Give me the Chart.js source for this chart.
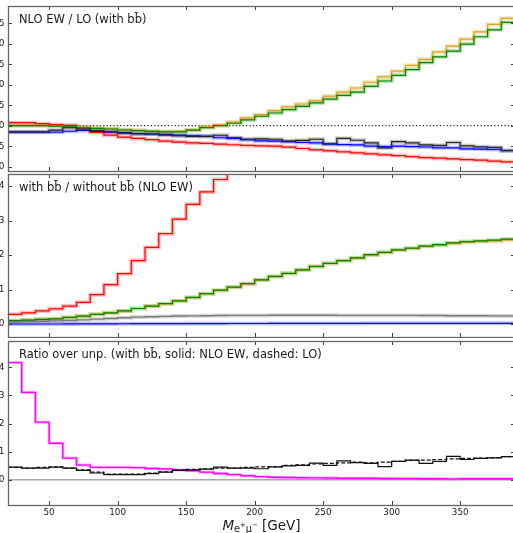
<!DOCTYPE html>
<html>
<head>
<meta charset="utf-8">
<script src="https://cdn.jsdelivr.net/npm/chart.js@4"></script>
<style>
  html, body { margin: 0; padding: 0; background: #fff; overflow: hidden; width: 513px; height: 533px; position: relative; }
  canvas { position: absolute; left: -40px; }
</style>
</head>
<body>
<canvas id="p1" width="560" height="173" style="top:0px"></canvas>
<canvas id="p2" width="560" height="165" style="top:173px"></canvas>
<canvas id="p3" width="560" height="194" style="top:339px"></canvas>
<script>
// bin edges in GeV (37 bins of 10 GeV)
const BIN_EDGES = [20, 30, 40, 50, 60, 70, 80, 90, 100, 110, 120, 130, 140, 150, 160, 170, 180, 190, 200,
  210, 220, 230, 240, 250, 260, 270, 280, 290, 300, 310, 320, 330, 340, 350, 360, 370, 380, 390];
const X_TICKS = [50, 100, 150, 200, 250, 300, 350];

// panel 1: NLO EW / LO (with bb)
const P1_TICKS = [0.90, 0.95, 1.00, 1.05, 1.10, 1.15, 1.20, 1.25];
const P1_GOLD = [1.001, 1.001, 1.001, 1.000, 0.998, 0.996, 0.994, 0.9925, 0.990, 0.9885, 0.987, 0.986, 0.986,
  0.990, 0.997, 1.002, 1.009, 1.019, 1.027, 1.037, 1.046, 1.053, 1.061, 1.072, 1.082, 1.092, 1.106, 1.119,
  1.133, 1.147, 1.162, 1.180, 1.194, 1.211, 1.229, 1.247, 1.262];
const P1_GREEN = [1.000, 1.000, 1.000, 0.999, 0.9975, 0.995, 0.9935, 0.992, 0.9895, 0.988, 0.986, 0.985, 0.985,
  0.989, 0.9955, 1.000, 1.006, 1.014, 1.023, 1.031, 1.039, 1.047, 1.0555, 1.065, 1.074, 1.082, 1.096, 1.109,
  1.123, 1.137, 1.154, 1.168, 1.182, 1.199, 1.217, 1.234, 1.252];
const P1_RED = [1.0074, 1.0074, 1.005, 1.0025, 1.001, 0.995, 0.9836, 0.977, 0.972, 0.969, 0.966, 0.9625, 0.960,
  0.958, 0.957, 0.955, 0.9535, 0.952, 0.951, 0.950, 0.9478, 0.9444, 0.9412, 0.9387, 0.9363, 0.9338, 0.9314,
  0.9289, 0.9272, 0.9248, 0.9223, 0.9208, 0.9191, 0.9174, 0.9159, 0.9135, 0.9118];
const P1_BLUE = [0.984, 0.984, 0.984, 0.984, 0.9865, 0.9885, 0.987, 0.985, 0.983, 0.981, 0.980, 0.979, 0.977,
  0.9755, 0.974, 0.9706, 0.969, 0.9657, 0.963, 0.9625, 0.961, 0.959, 0.958, 0.955, 0.954, 0.953, 0.950, 0.949,
  0.950, 0.949, 0.948, 0.946, 0.946, 0.9436, 0.943, 0.942, 0.9395];
const P1_BLACK = [0.985, 0.985, 0.985, 0.989, 0.995, 0.992, 0.988, 0.985, 0.982, 0.980, 0.9797, 0.977, 0.9755,
  0.974, 0.974, 0.9767, 0.9706, 0.967, 0.968, 0.967, 0.9625, 0.964, 0.967, 0.956, 0.969, 0.9645, 0.958, 0.946,
  0.961, 0.958, 0.953, 0.952, 0.959, 0.951, 0.9485, 0.947, 0.939];

// panel 2: with bb / without bb (NLO EW)
const P2_TICKS = [0, 1, 2, 3, 4];
const P2_RED = [0.28, 0.325, 0.38, 0.44, 0.52, 0.63, 0.85, 1.14, 1.46, 1.84, 2.22, 2.62, 3.04, 3.47, 3.83, 4.19,
  4.6, null, null, null, null, null, null, null, null, null, null, null, null, null, null, null, null, null,
  null, null, null];
const P2_GREEN = [0.095, 0.115, 0.135, 0.15, 0.19, 0.23, 0.28, 0.325, 0.38, 0.45, 0.52, 0.59, 0.67, 0.77, 0.88,
  0.98, 1.07, 1.17, 1.28, 1.38, 1.47, 1.57, 1.67, 1.76, 1.84, 1.92, 2.01, 2.08, 2.15, 2.20, 2.26, 2.30, 2.35,
  2.39, 2.41, 2.43, 2.46];
const P2_GOLD = [0.095, 0.115, 0.135, 0.15, 0.19, 0.23, 0.28, 0.325, 0.38, 0.45, 0.52, 0.59, 0.67, 0.765, 0.875,
  0.975, 1.065, 1.165, 1.275, 1.375, 1.465, 1.565, 1.665, 1.755, 1.835, 1.91, 2.00, 2.07, 2.14, 2.19, 2.25,
  2.29, 2.34, 2.37, 2.39, 2.41, 2.44];
const P2_BLACK = [0.066, 0.07, 0.08, 0.09, 0.10, 0.12, 0.14, 0.16, 0.18, 0.20, 0.21, 0.22, 0.23, 0.235, 0.24,
  0.245, 0.25, 0.25, 0.25, 0.255, 0.255, 0.255, 0.255, 0.255, 0.25, 0.25, 0.25, 0.25, 0.25, 0.25, 0.245, 0.245,
  0.24, 0.24, 0.24, 0.235, 0.235];
const P2_BLUE = [0.0, 0.0, 0.0, 0.0, 0.002, 0.004, 0.005, 0.006, 0.007, 0.008, 0.009, 0.01, 0.01, 0.011, 0.012,
  0.013, 0.014, 0.015, 0.015, 0.016, 0.016, 0.017, 0.017, 0.018, 0.018, 0.018, 0.019, 0.019, 0.019, 0.02, 0.02,
  0.02, 0.02, 0.02, 0.02, 0.02, 0.02];

// panel 3: ratio over unpolarised
const P3_TICKS = [0, 1, 2, 3, 4];
const P3_MAGENTA = [4.17, 3.11, 2.05, 1.30, 0.77, 0.52, 0.44, 0.44, 0.44, 0.43, 0.40, 0.38, 0.35, 0.32, 0.27,
  0.22, 0.18, 0.14, 0.11, 0.09, 0.08, 0.07, 0.065, 0.06, 0.055, 0.05, 0.05, 0.045, 0.04, 0.04, 0.035, 0.035,
  0.03, 0.035, 0.035, 0.035, 0.035];
const P3_SOLID = [0.45, 0.41, 0.41, 0.45, 0.41, 0.33, 0.24, 0.18, 0.18, 0.18, 0.22, 0.27, 0.33, 0.35, 0.38, 0.45,
  0.41, 0.41, 0.39, 0.46, 0.49, 0.51, 0.59, 0.51, 0.67, 0.61, 0.58, 0.47, 0.65, 0.70, 0.58, 0.65, 0.83, 0.72,
  0.76, 0.78, 0.82];
const P3_DASHED = [0.44, 0.41, 0.44, 0.46, 0.41, 0.35, 0.27, 0.20, 0.20, 0.20, 0.24, 0.28, 0.34, 0.37, 0.39, 0.41,
  0.41, 0.44, 0.46, 0.46, 0.51, 0.53, 0.56, 0.58, 0.60, 0.63, 0.60, 0.63, 0.65, 0.69, 0.70, 0.72, 0.74, 0.76,
  0.77, 0.79, 0.82];

const FONT = '"DejaVu Sans", sans-serif';

// histogram points: value of bin i sits at its lower edge, last value repeated at the upper edge
function hist(vals) {
  const pts = vals.map((v, i) => ({ x: BIN_EDGES[i], y: v }));
  pts.push({ x: BIN_EDGES[BIN_EDGES.length - 1], y: vals[vals.length - 1] });
  return pts;
}

function line(vals, color, width, order, dash) {
  return { data: hist(vals), borderColor: color, borderWidth: width, stepped: 'before', order: order,
    borderDash: dash || [], pointRadius: 0, fill: false, clip: 0 };
}

function flat(v, color, width, order, dash) {
  return { data: [{ x: 20, y: v }, { x: 390, y: v }], borderColor: color, borderWidth: width, order: order,
    borderDash: dash || [], pointRadius: 0, fill: false, clip: 0 };
}

const deco = {
  id: 'deco',
  afterDatasetsDraw(chart, args, o) {
    const { ctx, chartArea: a, scales: { x, y } } = chart;
    ctx.save();
    ctx.strokeStyle = '#444';
    ctx.lineWidth = 1;
    ctx.beginPath();
    X_TICKS.forEach(v => {
      const px = Math.round(x.getPixelForValue(v)) + 0.5;
      ctx.moveTo(px, a.top); ctx.lineTo(px, a.top + 4);
      ctx.moveTo(px, a.bottom); ctx.lineTo(px, a.bottom - 4);
    });
    o.yTicks.forEach(v => {
      const py = Math.round(y.getPixelForValue(v)) + 0.5;
      ctx.moveTo(a.left, py); ctx.lineTo(a.left + 4, py);
      ctx.moveTo(a.right, py); ctx.lineTo(a.right - 4, py);
    });
    ctx.stroke();

    ctx.strokeStyle = '#666';
    ctx.lineWidth = 1.3;
    ctx.strokeRect(a.left + 0.5, a.top + 0.5, a.right - a.left, a.bottom - a.top);

    ctx.fillStyle = '#1a1a1a';
    ctx.font = '11.5px ' + FONT;
    ctx.textBaseline = 'alphabetic';
    ctx.textAlign = 'left';
    ctx.fillText(o.title, a.left + 11, a.top + 17);

    if (o.xTitle) {
      const parts = [
        { t: 'M', f: 'italic 13.5px ' + FONT, dy: 0 },
        { t: 'e', f: '9.8px ' + FONT, dy: 2 },
        { t: '+', f: '6.8px ' + FONT, dy: -3 },
        { t: '\u03bc', f: '9.8px ' + FONT, dy: 2 },
        { t: '\u2212', f: '6.8px ' + FONT, dy: -3 },
        { t: ' [GeV]', f: '13.5px ' + FONT, dy: 0 }
      ];
      let total = 0;
      parts.forEach(p => { ctx.font = p.f; p.w = ctx.measureText(p.t).width; total += p.w; });
      let cx = (a.left + a.right) / 2 - total / 2;
      const base = a.bottom + 25;
      parts.forEach(p => { ctx.font = p.f; ctx.fillText(p.t, cx, base + p.dy); cx += p.w; });
    }
    ctx.restore();
  }
};

function panel(id, cfg) {
  const el = document.getElementById(id);
  return new Chart(el.getContext('2d'), {
    type: 'line',
    data: { datasets: cfg.datasets },
    options: {
      responsive: false,
      animation: false,
      events: [],
      layout: { padding: cfg.padding },
      plugins: {
        legend: { display: false },
        tooltip: { enabled: false },
        deco: { title: cfg.title, yTicks: cfg.yTicks, xTitle: cfg.showX }
      },
      scales: {
        x: {
          type: 'linear', min: 20, max: 390,
          afterBuildTicks: s => { s.ticks = X_TICKS.map(v => ({ value: v })); },
          afterFit: s => { s.height = cfg.showX ? 28 : 0; s.paddingLeft = 0; s.paddingRight = 0; },
          grid: { display: false, drawTicks: false },
          border: { display: false },
          ticks: { display: cfg.showX, font: { family: FONT, size: 8.8 }, color: '#222', padding: 2,
            maxRotation: 0, autoSkip: false }
        },
        y: {
          min: cfg.yMin, max: cfg.yMax,
          afterBuildTicks: s => { s.ticks = cfg.yTicks.map(v => ({ value: v })); },
          afterFit: s => { s.width = 48; s.paddingTop = 0; s.paddingBottom = 0; },
          grid: { display: false, drawTicks: false },
          border: { display: false },
          ticks: { font: { family: FONT, size: 9 }, color: '#222', padding: 3.5, callback: cfg.fmt }
        }
      }
    },
    plugins: [deco]
  });
}

panel('p1', {
  title: 'NLO EW / LO (with b\u0062\u0304)',
  yMin: 0.8895, yMax: 1.292, yTicks: P1_TICKS, fmt: v => v.toFixed(2),
  padding: { top: 6, bottom: 2, left: 0, right: 5 }, showX: false,
  datasets: [
    flat(1.0, '#222', 1.2, 20, [1.2, 2.2]),
    line(P1_RED, 'rgba(255,0,0,0.25)', 4, 12),
    line(P1_GOLD, 'rgba(218,165,32,0.3)', 4, 12),
    line(P1_GREEN, 'rgba(0,160,0,0.25)', 4, 12),
    line(P1_BLUE, 'rgba(0,0,255,0.25)', 4, 12),
    line(P1_BLACK, 'rgba(0,0,0,0.22)', 4, 12),
    line(P1_RED, '#ff0000', 1.2, 5),
    line(P1_GOLD, '#daa520', 1.2, 4),
    line(P1_GREEN, '#008000', 1.2, 3),
    line(P1_BLUE, '#0000ff', 1.2, 2),
    line(P1_BLACK, '#222222', 1.2, 1)
  ]
});

panel('p2', {
  title: 'with b\u0062\u0304 / without b\u0062\u0304 (NLO EW)',
  yMin: -0.377, yMax: 4.35, yTicks: P2_TICKS, fmt: v => String(v),
  padding: { top: 1, bottom: 1, left: 0, right: 5 }, showX: false,
  datasets: [
    line(P2_RED, 'rgba(255,0,0,0.25)', 4, 12),
    line(P2_GOLD, 'rgba(218,165,32,0.3)', 4, 12),
    line(P2_GREEN, 'rgba(0,160,0,0.25)', 4, 12),
    line(P2_BLUE, 'rgba(0,0,255,0.25)', 4, 12),
    line(P2_BLACK, 'rgba(0,0,0,0.15)', 4, 12),
    line(P2_RED, '#ff0000', 1.2, 5),
    line(P2_GOLD, '#daa520', 1.2, 4),
    line(P2_GREEN, '#008000', 1.2, 3),
    line(P2_BLUE, '#0000ff', 1.2, 2),
    line(P2_BLACK, '#7a7a7a', 1.4, 1)
  ]
});

panel('p3', {
  title: 'Ratio over unp. (with b\u0062\u0304, solid: NLO EW, dashed: LO)',
  yMin: -0.9, yMax: 4.94, yTicks: P3_TICKS, fmt: v => String(v),
  padding: { top: 2, bottom: 0, left: 0, right: 5 }, showX: true,
  datasets: [
    flat(0, '#aaaaaa', 1.5, 20),
    line(P3_MAGENTA, 'rgba(255,0,255,0.3)', 3, 12),
    line(P3_MAGENTA, '#ff00ff', 1.4, 3),
    line(P3_DASHED, '#111111', 1.2, 2, [4, 2]),
    line(P3_SOLID, '#111111', 1.2, 1)
  ]
});
</script>
</body>
</html>
